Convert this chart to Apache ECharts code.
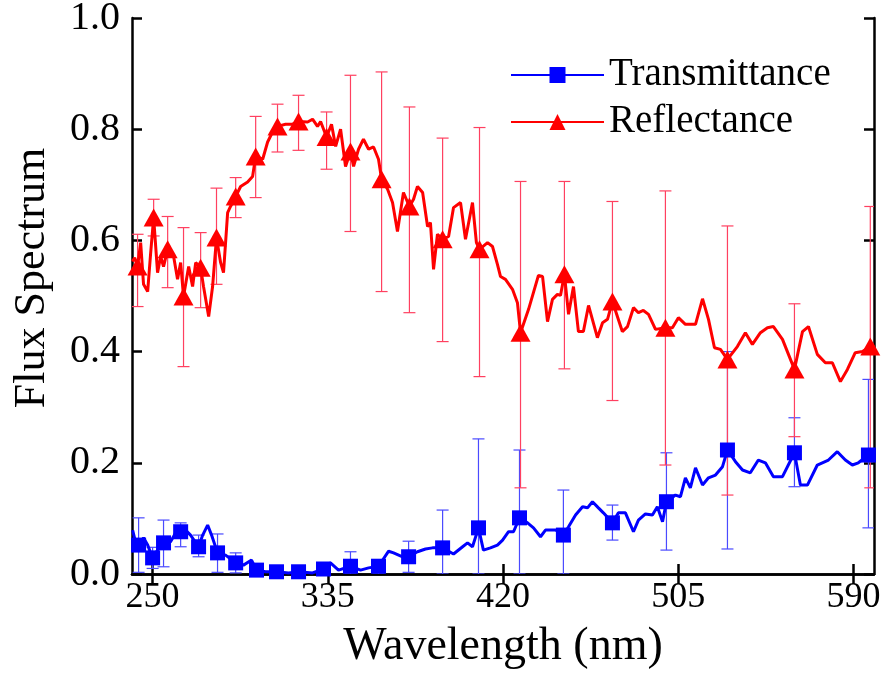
<!DOCTYPE html>
<html>
<head>
    <meta charset="utf-8"/>
    <title>Flux Spectrum</title>
    <script src="https://cdn.jsdelivr.net/npm/echarts@6/dist/echarts.min.js"></script>
    <style>
        html, body { margin: 0; padding: 0; background: #fff; }
        #main { width: 885px; height: 684px; }
    </style>
</head>
<body>
<div id="main"></div>
<script>
    // tick labels
    var xTicks = [250, 335, 420, 505, 590];

    // Reflectance line (wavelength nm / value)
    var reflX = [240.2, 241.3, 242.7, 244.2, 245.6, 247.6, 249.0, 250.5, 252.4, 253.9,
        255.3, 257.3, 260.2, 262.1, 263.6, 265.0, 267.5, 269.4, 270.9, 273.3,
        274.7, 277.2, 279.1, 281.0, 283.0, 284.4, 286.4, 287.8, 290.3, 292.7,
        296.1, 298.5, 300.0, 303.4, 305.8, 308.2, 310.6, 314.5, 317.9, 320.8,
        325.2, 327.6, 330.0, 331.5, 334.4, 336.8, 338.8, 341.2, 343.6, 346.0,
        347.5, 349.9, 352.3, 354.8, 357.2, 359.6, 361.1, 364.0, 366.4, 368.8,
        371.7, 374.6, 376.6, 378.5, 381.0, 383.4, 384.8, 386.3, 388.2, 390.7,
        393.6, 396.0, 399.4, 401.8, 405.2, 407.1, 408.6, 412.5, 414.9, 417.3,
        418.8, 421.2, 424.6, 427.0, 428.5, 432.4, 437.2, 439.2, 441.6, 444.0,
        446.4, 447.9, 449.8, 451.8, 454.2, 456.6, 459.0, 461.5, 465.8, 468.3,
        470.7, 473.1, 477.9, 480.4, 483.3, 485.7, 488.1, 490.6, 494.0, 498.8,
        502.2, 505.1, 508.5, 513.4, 516.8, 519.7, 522.6, 525.5, 528.9, 533.7,
        537.6, 541.0, 544.9, 548.3, 551.2, 555.6, 561.4, 565.3, 568.2, 572.5,
        576.4, 579.8, 583.7, 587.1, 590.9, 594.4, 598.2, 600.0];
    var reflY = [0.562, 0.569, 0.553, 0.596, 0.521, 0.508, 0.575, 0.641, 0.542, 0.571,
        0.553, 0.584, 0.571, 0.530, 0.560, 0.499, 0.553, 0.517, 0.560, 0.551,
        0.517, 0.463, 0.517, 0.605, 0.560, 0.542, 0.650, 0.661, 0.679, 0.697,
        0.705, 0.715, 0.751, 0.746, 0.777, 0.795, 0.805, 0.809, 0.809, 0.814,
        0.813, 0.818, 0.805, 0.814, 0.786, 0.809, 0.769, 0.800, 0.733, 0.760,
        0.733, 0.764, 0.782, 0.764, 0.768, 0.746, 0.710, 0.692, 0.668, 0.616,
        0.686, 0.661, 0.674, 0.697, 0.686, 0.625, 0.632, 0.548, 0.611, 0.602,
        0.607, 0.659, 0.668, 0.602, 0.668, 0.596, 0.584, 0.596, 0.589, 0.557,
        0.535, 0.530, 0.512, 0.488, 0.434, 0.476, 0.537, 0.535, 0.454, 0.494,
        0.503, 0.501, 0.539, 0.467, 0.517, 0.436, 0.436, 0.483, 0.425, 0.452,
        0.458, 0.490, 0.436, 0.445, 0.479, 0.470, 0.474, 0.467, 0.440, 0.443,
        0.443, 0.461, 0.449, 0.449, 0.495, 0.458, 0.407, 0.404, 0.386, 0.409,
        0.434, 0.413, 0.434, 0.443, 0.445, 0.422, 0.368, 0.436, 0.445, 0.395,
        0.380, 0.380, 0.346, 0.368, 0.398, 0.400, 0.409, 0.413];

    // Transmittance line
    var transX = [240.3, 241.8, 243.2, 245.6, 247.6, 250.0, 252.4, 255.3, 258.7, 261.2,
        263.6, 266.0, 268.4, 272.3, 274.3, 276.7, 278.6, 281.5, 285.4, 290.3,
        294.1, 298.0, 300.4, 304.8, 310.1, 316.0, 320.8, 327.6, 332.9, 336.3,
        340.2, 346.0, 350.9, 354.8, 359.6, 364.5, 366.9, 371.3, 374.2, 378.5,
        382.4, 385.8, 390.7, 396.0, 400.4, 402.8, 405.2, 408.1, 410.5, 413.9,
        417.3, 419.8, 422.7, 425.1, 428.0, 431.9, 434.8, 438.2, 440.6, 445.5,
        449.3, 451.8, 455.2, 458.6, 461.0, 463.4, 466.3, 468.7, 473.1, 476.0,
        479.4, 483.3, 485.7, 489.1, 492.5, 494.9, 497.4, 499.3, 503.7, 506.1,
        508.5, 510.9, 513.4, 516.8, 519.7, 523.1, 526.5, 528.9, 532.8, 536.2,
        540.0, 543.9, 547.3, 551.2, 555.6, 561.4, 564.3, 567.7, 572.5, 577.9,
        582.2, 586.1, 589.5, 592.4, 597.3, 600.0];
    var transY = [0.079, 0.056, 0.052, 0.065, 0.052, 0.029, 0.043, 0.056, 0.058, 0.074,
        0.076, 0.079, 0.070, 0.049, 0.070, 0.088, 0.070, 0.038, 0.034, 0.020,
        0.016, 0.025, 0.007, 0.004, 0.004, 0.002, 0.004, 0.002, 0.009, 0.020,
        0.007, 0.014, 0.007, 0.011, 0.014, 0.041, 0.038, 0.031, 0.031, 0.040,
        0.045, 0.047, 0.047, 0.036, 0.049, 0.056, 0.049, 0.083, 0.043, 0.047,
        0.052, 0.061, 0.076, 0.076, 0.101, 0.092, 0.083, 0.067, 0.079, 0.079,
        0.070, 0.085, 0.106, 0.121, 0.119, 0.130, 0.119, 0.110, 0.092, 0.110,
        0.110, 0.076, 0.097, 0.108, 0.106, 0.121, 0.094, 0.130, 0.142, 0.139,
        0.173, 0.155, 0.191, 0.160, 0.173, 0.178, 0.193, 0.223, 0.202, 0.187,
        0.182, 0.205, 0.200, 0.175, 0.175, 0.218, 0.160, 0.160, 0.196, 0.205,
        0.220, 0.205, 0.196, 0.200, 0.214, 0.220];

    // marker positions and error bars
    var reflMarkX = [242.7, 250.5, 257.3, 265.0, 273.3, 281.0, 290.3, 300.0, 310.6, 320.8, 334.4, 346.0,
        361.1, 374.6, 390.7, 408.6, 428.5, 449.8, 473.1, 498.8, 528.9, 561.4, 598.2];
    var reflLow = [0.481, 0.608, 0.515, 0.373, 0.479, 0.521, 0.641, 0.677, 0.759, 0.762, 0.728, 0.616,
        0.508, 0.470, 0.418, 0.355, 0.155, 0.369, 0.312, 0.196, 0.142, 0.247, 0.155];
    var reflHigh = [0.611, 0.674, 0.643, 0.623, 0.614, 0.694, 0.713, 0.823, 0.845, 0.861, 0.831, 0.897,
        0.903, 0.840, 0.784, 0.803, 0.706, 0.706, 0.670, 0.689, 0.626, 0.486, 0.661];

    var transMarkX = [243.2, 250.0, 255.3, 263.6, 272.3, 281.5, 290.3, 300.4, 310.1, 320.8, 332.9, 346.0,
        359.6, 374.2, 390.7, 408.1, 428.0, 449.3, 473.1, 499.3, 528.9, 561.4, 597.3];
    var transLow = [0.003, 0.010, 0.013, 0.049, 0.031, 0.003, 0.002, 0.0, 0.0, 0.0, 0.0, 0.0,
        0.0, 0.003, 0.0, 0.0, 0.0, 0.0, 0.061, 0.043, 0.045, 0.157, 0.083];
    var transHigh = [0.101, 0.048, 0.097, 0.092, 0.070, 0.072, 0.038, 0.012, 0.008, 0.008, 0.016, 0.040,
        0.025, 0.059, 0.115, 0.243, 0.223, 0.151, 0.124, 0.218, 0.400, 0.281, 0.350];

    var FONT = "'Liberation Serif', 'Times New Roman', serif";

    function zip(a, b) {
        return a.map(function (v, i) { return [v, b[i]]; });
    }

    function zip3(a, b, c) {
        return a.map(function (v, i) { return [v, b[i], c[i]]; });
    }

    function errorBars(color) {
        return function (params, api) {
            var top = api.coord([api.value(0), api.value(2)]);
            var bot = api.coord([api.value(0), api.value(1)]);
            var w = 6;
            var st = { stroke: color, lineWidth: 1.2 };
            return {
                type: 'group',
                children: [
                    { type: 'line', shape: { x1: top[0], y1: top[1], x2: bot[0], y2: bot[1] }, style: st },
                    { type: 'line', shape: { x1: top[0] - w, y1: top[1], x2: top[0] + w, y2: top[1] }, style: st },
                    { type: 'line', shape: { x1: bot[0] - w, y1: bot[1], x2: bot[0] + w, y2: bot[1] }, style: st }
                ]
            };
        };
    }

    var axisLine = { show: true, lineStyle: { color: '#000', width: 2.5 } };
    var tickStyle = { color: '#000', width: 2.5 };

    var myChart = echarts.init(document.getElementById('main'));
    var option = {
        animation: false,
        backgroundColor: '#fff',
        grid: { left: 132, right: 11, top: 18, bottom: 110, outerBoundsMode: 'none' },
        // y title drawn as plain text so it can sit a little above centre, as in the original
        graphic: [{
            type: 'text',
            x: 32, y: 278,
            rotation: Math.PI / 2,
            style: {
                text: 'Flux Spectrum', fontFamily: FONT, fontSize: 44, fill: '#000',
                align: 'center', verticalAlign: 'middle'
            }
        }],
        legend: {
            orient: 'vertical',
            left: 505,
            top: 50,
            itemWidth: 93,
            itemHeight: 20,
            itemGap: 7,
            data: ['Transmittance', 'Reflectance'],
            textStyle: { fontFamily: FONT, fontSize: 39, color: '#000', lineHeight: 40 }
        },
        xAxis: [
            {
                type: 'value', min: 240, max: 600, position: 'bottom',
                axisLine: axisLine,
                axisTick: { inside: true, length: 10, customValues: xTicks, lineStyle: tickStyle },
                axisLabel: { customValues: xTicks, fontFamily: FONT, fontSize: 36, color: '#000', margin: 6 },
                splitLine: { show: false },
                name: 'Wavelength (nm)', nameLocation: 'middle', nameGap: 50,
                nameTextStyle: { fontFamily: FONT, fontSize: 46, color: '#000' }
            },
            {
                type: 'value', min: 240, max: 600, position: 'top',
                axisLine: axisLine,
                axisTick: { inside: true, length: 10, customValues: xTicks, lineStyle: tickStyle },
                axisLabel: { show: false },
                splitLine: { show: false }
            }
        ],
        yAxis: [
            {
                type: 'value', min: 0, max: 1, interval: 0.2, position: 'left',
                axisLine: axisLine,
                axisTick: { inside: true, length: 10, lineStyle: tickStyle },
                axisLabel: {
                    fontFamily: FONT, fontSize: 40, color: '#000', margin: 12,
                    formatter: function (v) { return v.toFixed(1); }
                },
                splitLine: { show: false }
            },
            {
                type: 'value', min: 0, max: 1, interval: 0.2, position: 'right',
                axisLine: axisLine,
                axisTick: { inside: true, length: 10, lineStyle: tickStyle },
                axisLabel: { show: false },
                splitLine: { show: false }
            }
        ],
        series: [
            {
                name: 'TransErr', type: 'custom', clip: true, z: 1,
                renderItem: errorBars('#4a4aff'),
                encode: { x: 0, y: [1, 2] },
                data: zip3(transMarkX, transLow, transHigh)
            },
            {
                name: 'ReflErr', type: 'custom', clip: true, z: 1,
                renderItem: errorBars('#ff4060'),
                encode: { x: 0, y: [1, 2] },
                data: zip3(reflMarkX, reflLow, reflHigh)
            },
            {
                name: 'Transmittance', type: 'line', z: 3,
                data: zip(transX, transY),
                color: '#0000ff',
                lineStyle: { width: 3, color: '#0000ff' },
                itemStyle: { color: '#0000ff' },
                symbol: 'rect',
                symbolSize: function (v) { return transMarkX.indexOf(v[0]) >= 0 ? 15 : 0; },
                showAllSymbol: true,
                clip: true
            },
            {
                name: 'Reflectance', type: 'line', z: 3,
                data: zip(reflX, reflY),
                color: '#ff0000',
                lineStyle: { width: 3, color: '#ff0000' },
                itemStyle: { color: '#ff0000' },
                symbol: 'triangle',
                symbolSize: function (v) { return reflMarkX.indexOf(v[0]) >= 0 ? [20, 18] : 0; },
                showAllSymbol: true,
                clip: true
            }
        ]
    };
    myChart.setOption(option);

    window.onresize = function () {
        myChart.resize();
    };
</script>
</body>
</html>
